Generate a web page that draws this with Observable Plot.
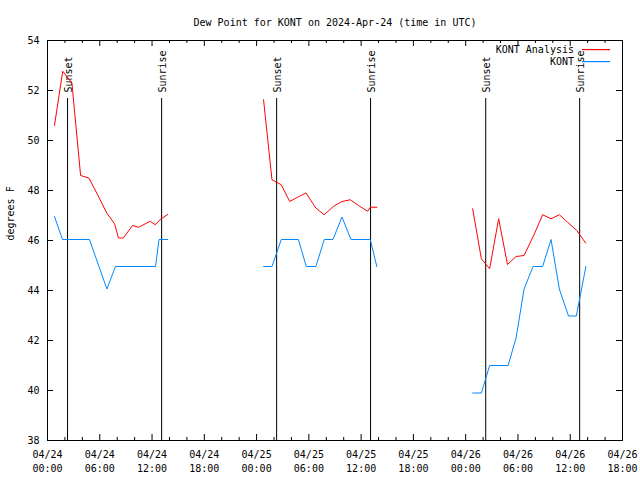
<!DOCTYPE html>
<html><head><meta charset="utf-8">
<script src="https://cdn.jsdelivr.net/npm/d3@7"></script>
<script src="https://cdn.jsdelivr.net/npm/@observablehq/plot@0.6"></script>
<style>body{margin:0;background:#fff}</style>
</head><body><div id="chart"></div>
<script>
const title = "Dew Point for KONT on 2024-Apr-24 (time in UTC)";
const yLabel = "degrees F";
const seriesNames = ["KONT Analysis", "KONT"];
const seriesColors = ["#ff0000", "#0088ff"];
const xDomain = ["2024-04-24 00:00", "2024-04-26 18:00"];
const yDomain = [38, 54];
const yTicks = [38, 40, 42, 44, 46, 48, 50, 52, 54];
const xTicks = ["2024-04-24 00:00","2024-04-24 06:00","2024-04-24 12:00","2024-04-24 18:00",
  "2024-04-25 00:00","2024-04-25 06:00","2024-04-25 12:00","2024-04-25 18:00",
  "2024-04-26 00:00","2024-04-26 06:00","2024-04-26 12:00","2024-04-26 18:00"];

const sunTimes = ["2024-04-24 02:18","2024-04-24 13:06","2024-04-25 02:18","2024-04-25 13:05","2024-04-26 02:18","2024-04-26 13:05"];
const sunLabels = ["Sunset","Sunrise","Sunset","Sunrise","Sunset","Sunrise"];

// KONT Analysis (red)
const anaTimes = [
  "2024-04-24 00:48","2024-04-24 01:45","2024-04-24 02:48","2024-04-24 03:48","2024-04-24 04:45","2024-04-24 05:48",
  "2024-04-24 06:48","2024-04-24 07:42","2024-04-24 08:09","2024-04-24 08:42","2024-04-24 09:46","2024-04-24 10:27",
  "2024-04-24 11:48","2024-04-24 12:22","2024-04-24 12:56","2024-04-24 13:48",
  "2024-04-25 00:48","2024-04-25 01:46","2024-04-25 02:50","2024-04-25 03:48","2024-04-25 04:48","2024-04-25 05:40",
  "2024-04-25 06:48","2024-04-25 07:46","2024-04-25 08:48","2024-04-25 09:48","2024-04-25 10:45","2024-04-25 11:42",
  "2024-04-25 12:44","2024-04-25 13:03","2024-04-25 13:48",
  "2024-04-26 00:48","2024-04-26 01:48","2024-04-26 02:45","2024-04-26 03:47","2024-04-26 04:48","2024-04-26 05:47",
  "2024-04-26 06:42","2024-04-26 07:48","2024-04-26 08:50","2024-04-26 09:48","2024-04-26 10:45","2024-04-26 11:42",
  "2024-04-26 12:45","2024-04-26 13:46"];
const anaValues = [
  50.6, 52.77, 52.3, 48.6, 48.5, 47.8,
  47.1, 46.67, 46.1, 46.1, 46.6, 46.53,
  46.77, 46.63, 46.84, 47.04,
  51.63, 48.43, 48.23, 47.56, 47.75, 47.9,
  47.3, 47.03, 47.36, 47.56, 47.63, 47.4,
  47.17, 47.33, 47.33,
  47.27, 45.27, 44.87, 46.87, 45.04, 45.36,
  45.4, 46.2, 47.03, 46.87, 47.03, 46.73,
  46.4, 45.9];

// KONT observations (blue)
const obsTimes = [
  "2024-04-24 00:48","2024-04-24 01:43","2024-04-24 04:49","2024-04-24 06:49","2024-04-24 07:48","2024-04-24 12:24",
  "2024-04-24 12:48","2024-04-24 13:48",
  "2024-04-25 00:48","2024-04-25 01:46","2024-04-25 02:50","2024-04-25 04:48","2024-04-25 05:42","2024-04-25 06:48",
  "2024-04-25 07:46","2024-04-25 08:46","2024-04-25 09:48","2024-04-25 10:50","2024-04-25 13:03","2024-04-25 13:48",
  "2024-04-26 00:48","2024-04-26 01:48","2024-04-26 02:45","2024-04-26 04:52","2024-04-26 05:47","2024-04-26 06:42",
  "2024-04-26 07:44","2024-04-26 08:50","2024-04-26 09:48","2024-04-26 10:45","2024-04-26 11:48","2024-04-26 12:42",
  "2024-04-26 13:48"];
const obsValues = [
  46.96, 46.04, 46.04, 44.06, 44.96, 44.96,
  46.04, 46.04,
  44.96, 44.96, 46.04, 46.04, 44.96, 44.96,
  46.04, 46.04, 46.94, 46.04, 46.04, 44.96,
  39.9, 39.9, 41.0, 41.0, 42.1, 44.06,
  44.96, 44.96, 46.04, 44.06, 42.98, 42.98,
  44.96];

const parse = d3.utcParse("%Y-%m-%d %H:%M");
const ana = anaTimes.map((t, i) => ({t: parse(t), v: anaValues[i]}));
const obs = obsTimes.map((t, i) => ({t: parse(t), v: obsValues[i]}));
const sun = sunTimes.map((t, i) => ({t: parse(t), label: sunLabels[i]}));
const majors = xTicks.map(parse);
const minors = d3.utcHour.every(2).range(majors[0], d3.utcHour.offset(majors[majors.length - 1], 1))
  .filter(d => d.getUTCHours() % 6 !== 0);
const fmtTop = d3.utcFormat("%m/%d"), fmtBot = d3.utcFormat("%H:%M");

const W = 640, H = 480, mL = 47, mR = 18, mT = 40, mB = 40;
const pw = W - mL - mR, ph = H - mT - mB;

const chart = Plot.plot({
  width: W, height: H,
  marginLeft: mL, marginRight: mR, marginTop: mT, marginBottom: mB,
  style: {fontFamily: "'DejaVu Sans Mono', monospace", fontSize: "10px", background: "white", color: "black"},
  x: {type: "utc", domain: xDomain.map(parse)},
  y: {domain: yDomain},
  marks: [
    Plot.ruleX(sun, {x: "t", insetTop: 58, stroke: "black"}),
    Plot.text(sun, {x: "t", text: "label", frameAnchor: "top", dy: 52, dx: -3, rotate: -90, textAnchor: "start", fill: "black"}),
    Plot.line(ana, {x: "t", y: "v", z: d => d.t.getUTCDate(), stroke: seriesColors[0], strokeWidth: 1}),
    Plot.line(obs, {x: "t", y: "v", z: d => d.t.getUTCDate(), stroke: seriesColors[1], strokeWidth: 1}),
    Plot.frame({stroke: "black"}),
    Plot.tickX(majors, {x: d => d, insetTop: ph - 6, stroke: "black"}),
    Plot.tickX(majors, {x: d => d, insetBottom: ph - 6, stroke: "black"}),
    Plot.tickX(minors, {x: d => d, insetTop: ph - 3, stroke: "black"}),
    Plot.tickX(minors, {x: d => d, insetBottom: ph - 3, stroke: "black"}),
    Plot.tickY(yTicks, {y: d => d, insetRight: pw - 6, stroke: "black"}),
    Plot.tickY(yTicks, {y: d => d, insetLeft: pw - 6, stroke: "black"}),
    Plot.axisX(majors, {anchor: "bottom", tickSize: 0, tickPadding: 8, lineHeight: 1.4,
      tickFormat: d => fmtTop(d) + "\n" + fmtBot(d), label: null}),
    Plot.axisY(yTicks, {anchor: "left", tickSize: 0, tickPadding: 8, label: null}),
    Plot.text([yLabel], {frameAnchor: "left", rotate: -90, dx: -37, fill: "black"}),
    Plot.text([title], {frameAnchor: "top", dy: -22, fill: "black"})
  ]
});
document.getElementById("chart").appendChild(chart);

// legend entries (text + line samples) in the top-right corner of the frame
const svg = d3.select(chart);
const lg = svg.append("g");
seriesNames.forEach((name, i) => {
  const y = 49 + i * 12;
  lg.append("text").attr("x", W - mR - 48).attr("y", y + 0.5).attr("dy", "0.32em")
    .attr("text-anchor", "end").attr("fill", "black")
    .attr("font-family", "'DejaVu Sans Mono', monospace").attr("font-size", 10).text(name);
  lg.append("rect").attr("x", 582).attr("y", y).attr("width", 28).attr("height", 1.2)
    .attr("fill", seriesColors[i]).style("fill", seriesColors[i]).style("stroke", "none");
});
</script>
</body></html>
